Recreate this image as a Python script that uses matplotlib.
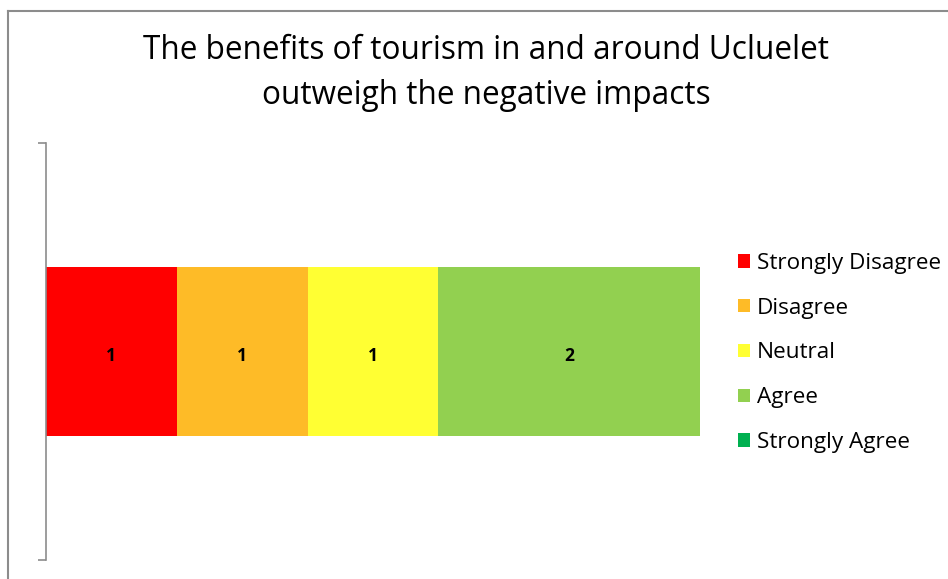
import matplotlib.pyplot as plt
from matplotlib.lines import Line2D

# survey answers for the single statement
categories = ['Strongly Disagree', 'Disagree', 'Neutral', 'Agree', 'Strongly Agree']
counts = [1, 1, 1, 2, 0]
colors = ['#FF0000', '#FEBB27', '#FFFF33', '#92D050', '#00B050']
title = 'The benefits of tourism in and around Ucluelet\noutweigh the negative impacts'

plt.rcParams['font.family'] = ['Open Sans', 'DejaVu Sans']

fig = plt.figure(figsize=(9.48, 5.79), dpi=100)
ax = fig.add_axes([46 / 948, 1 - 560 / 579, 654 / 948, 417 / 579])

# stacked horizontal bar, one segment per answer
left = 0
bars = []
for cat, val, col in zip(categories, counts, colors):
    b = ax.barh(0, val, left=left, height=0.403, color=col, label=cat)
    bars.append(b)
    if val > 0:
        ax.text(left + val / 2, -0.01, str(val), ha='center', va='center',
                fontsize=12.5, fontweight='bold', color='black')
    left += val

ax.set_xlim(0, sum(counts))
ax.set_ylim(-0.5, 0.5)
ax.set_xticks([])
ax.set_yticks([-0.5, 0.5])
ax.set_yticklabels([])
ax.tick_params(axis='y', direction='out', length=6, width=1.2, color='#8c8c8c')
for s in ['top', 'right', 'bottom']:
    ax.spines[s].set_visible(False)
ax.spines['left'].set_color('#8c8c8c')
ax.spines['left'].set_linewidth(1.2)

fig.text(486 / 948, 1 - 73 / 579, title, ha='center', va='center',
         fontsize=22.7, linespacing=1.47, color='black')

leg = fig.legend(handles=[b[0] for b in bars], labels=categories,
                 loc='center left', bbox_to_anchor=(729 / 948, 1 - 353 / 579),
                 frameon=False, fontsize=16.2, handlelength=0.55, handleheight=0.55,
                 handletextpad=0.3, labelspacing=1.06, borderaxespad=0)

# chart area border (only left and top edges visible in the crop)
fig.add_artist(Line2D([8 / 948, 8 / 948], [0, 1 - 11 / 579], transform=fig.transFigure,
                      color='#8c8c8c', lw=1.5))
fig.add_artist(Line2D([8 / 948, 1], [1 - 11 / 579, 1 - 11 / 579], transform=fig.transFigure,
                      color='#8c8c8c', lw=1.5))

fig.savefig('out.png', dpi=100)
